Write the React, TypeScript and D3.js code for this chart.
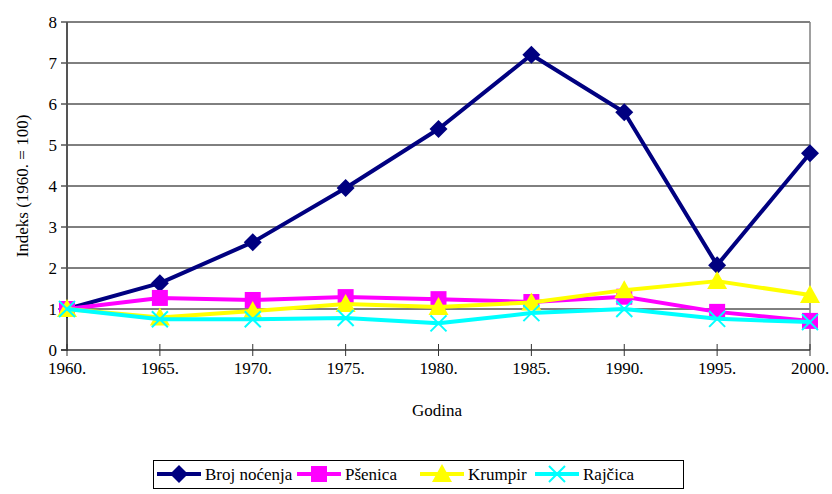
import React from "react";
import * as d3 from "d3";

const years = ["1960.", "1965.", "1970.", "1975.", "1980.", "1985.", "1990.", "1995.", "2000."];
const brojNocenja = [1, 1.63, 2.63, 3.95, 5.39, 7.2, 5.8, 2.07, 4.8];
const psenica = [1, 1.27, 1.22, 1.29, 1.24, 1.17, 1.3, 0.93, 0.71];
const krumpir = [1, 0.79, 0.95, 1.12, 1.05, 1.16, 1.46, 1.68, 1.34];
const rajcica = [1, 0.75, 0.75, 0.78, 0.65, 0.9, 1.0, 0.76, 0.68];
const yTicks = [0, 1, 2, 3, 4, 5, 6, 7, 8];

const seriesNames = ["Broj noćenja", "Pšenica", "Krumpir", "Rajčica"];
const seriesData = [brojNocenja, psenica, krumpir, rajcica];
const colors = ["#000080", "#FF00FF", "#FFFF00", "#00FFFF"];
const markers = ["diamond", "square", "triangle", "x"];

const W = 832, H = 494;
const left = 67, right = 810, top = 22, bottom = 350;
const font = "Liberation Serif, Tinos, Times New Roman, Times, DejaVu Serif, serif";

function Marker({ type, x, y, color }: { type: string; x: number; y: number; color: string }) {
  if (type === "diamond") {
    const s = 9;
    return <path d={`M${x},${y - s}L${x + s},${y}L${x},${y + s}L${x - s},${y}Z`} fill={color} />;
  }
  if (type === "square") {
    const s = 8;
    return <rect x={x - s} y={y - s} width={2 * s} height={2 * s} fill={color} />;
  }
  if (type === "triangle") {
    const s = 10;
    return <path d={`M${x},${y - s}L${x + s},${y + s * 0.8}L${x - s},${y + s * 0.8}Z`} fill={color} />;
  }
  const s = 8;
  return (
    <path d={`M${x - s},${y - s}L${x + s},${y + s}M${x + s},${y - s}L${x - s},${y + s}`} stroke={color} strokeWidth={2} />
  );
}

export default function App() {
  const x = d3.scalePoint<string>().domain(years).range([left, right]);
  const y = d3.scaleLinear().domain([0, 8]).range([bottom, top]);
  const line = d3
    .line<number>()
    .x((_, i) => x(years[i]) as number)
    .y((d) => y(d));

  const legendItems = [
    { x0: 157, tx: 205 },
    { x0: 297, tx: 345 },
    { x0: 420, tx: 468 },
    { x0: 535, tx: 583 },
  ];

  return (
    <svg width={W} height={H} style={{ position: "absolute", left: 0, top: 0, fontFamily: font }}>
      <rect width={W} height={H} fill="#fff" />
      {yTicks.map((t) => (
        <g key={t}>
          {t > 0 && <line x1={left} x2={right} y1={y(t)} y2={y(t)} stroke="#000" strokeWidth={1} />}
          <line x1={left - 6} x2={left} y1={y(t)} y2={y(t)} stroke="#000" strokeWidth={1} />
          <text x={left - 10} y={y(t)} dy="0.35em" textAnchor="end" fontSize={17}>
            {t}
          </text>
        </g>
      ))}
      <line x1={right} x2={right} y1={top} y2={bottom} stroke="#808080" strokeWidth={1.5} />
      <line x1={left} x2={left} y1={top} y2={bottom + 1} stroke="#555" strokeWidth={2} />
      <line x1={left - 6} x2={right} y1={bottom} y2={bottom} stroke="#333" strokeWidth={1.5} />
      {years.map((yr) => (
        <g key={yr}>
          <line x1={x(yr)} x2={x(yr)} y1={bottom - 6} y2={bottom + 6} stroke="#333" strokeWidth={1} />
          <text x={x(yr)} y={bottom + 24} textAnchor="middle" fontSize={17}>
            {yr}
          </text>
        </g>
      ))}
      {seriesData.map((d, si) => (
        <g key={si}>
          <path d={line(d) as string} fill="none" stroke={colors[si]} strokeWidth={4} strokeLinejoin="round" />
          {d.map((v, i) => (
            <Marker key={i} type={markers[si]} x={x(years[i]) as number} y={y(v)} color={colors[si]} />
          ))}
        </g>
      ))}
      <text x={437} y={416} textAnchor="middle" fontSize={17}>
        Godina
      </text>
      <text transform={`translate(28,186) rotate(-90)`} textAnchor="middle" fontSize={17}>
        Indeks (1960. = 100)
      </text>
      <rect x={153.5} y={460.5} width={530} height={28} fill="#fff" stroke="#000" strokeWidth={1} />
      {legendItems.map((it, i) => (
        <g key={i}>
          <line x1={it.x0} x2={it.x0 + 44} y1={474} y2={474} stroke={colors[i]} strokeWidth={4} />
          <Marker type={markers[i]} x={it.x0 + 22} y={474} color={colors[i]} />
          <text x={it.tx} y={474} dy="0.35em" fontSize={17}>
            {seriesNames[i]}
          </text>
        </g>
      ))}
    </svg>
  );
}
